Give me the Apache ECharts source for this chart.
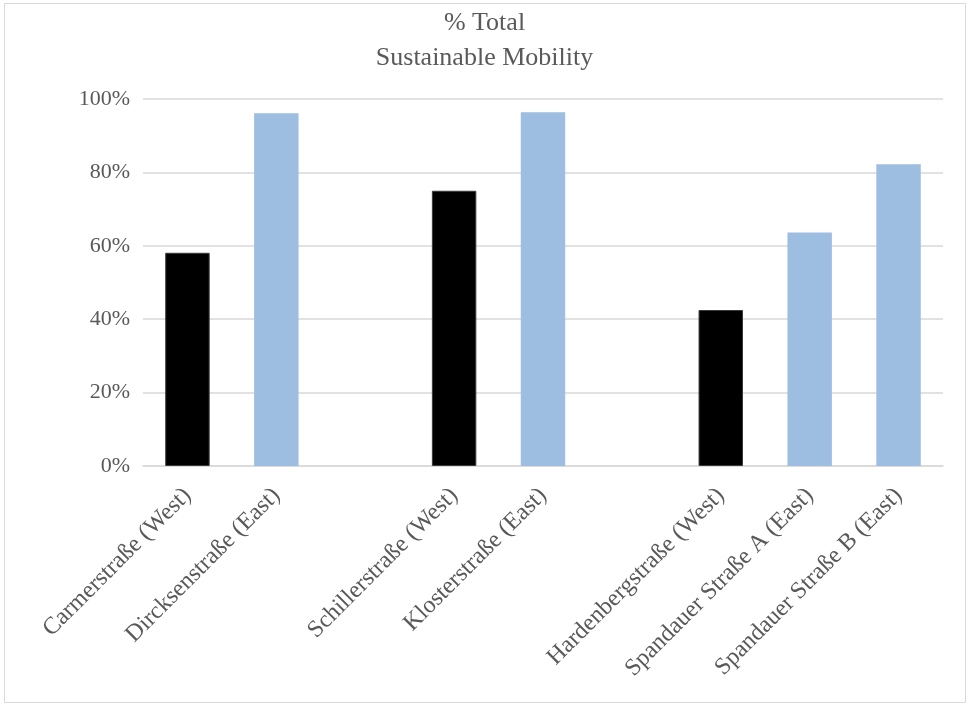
<!DOCTYPE html>
<html>
<head>
<meta charset="utf-8">
<script src="https://cdn.jsdelivr.net/npm/echarts@6/dist/echarts.min.js"></script>
<style>
  html, body { margin: 0; padding: 0; background: #fff; }
  #chart { width: 969px; height: 707px; }
</style>
</head>
<body>
<div id="chart"></div>
<script>
// Street names; empty entries leave a gap between the three groups
const streets = [
  'Carmerstraße (West)', 'Dircksenstraße (East)', '',
  'Schillerstraße (West)', 'Klosterstraße (East)', '',
  'Hardenbergstraße (West)', 'Spandauer Straße A (East)', 'Spandauer Straße B (East)'
];
// Share of sustainable mobility (%), null where a street belongs to the other side
const westShare = [58.1, null, null, 75.0, null, null, 42.5, null, null];
const eastShare = [null, 96.1, null, null, 96.4, null, null, 63.6, 82.2];
const yTicks = [0, 20, 40, 60, 80, 100];

const serif = '"Liberation Serif", "DejaVu Serif", serif';
const textGrey = '#595959';
const gridGrey = '#d9d9d9';

const chart = echarts.init(document.getElementById('chart'), null, { renderer: 'canvas' });
chart.setOption({
  animation: false,
  backgroundColor: '#ffffff',
  title: {
    text: '% Total\nSustainable Mobility',
    left: 'center',
    top: 1,
    textStyle: {
      fontFamily: serif,
      fontSize: 26,
      fontWeight: 'normal',
      color: textGrey,
      lineHeight: 35
    }
  },
  graphic: [{
    type: 'rect',
    shape: { x: 4.5, y: 3.5, width: 961, height: 699 },
    style: { fill: 'none', stroke: '#d9d9d9', lineWidth: 1 },
    silent: true
  }],
  grid: { left: 143, right: 26, top: 99, bottom: 241, containLabel: false },
  xAxis: {
    type: 'category',
    data: streets,
    axisLine: { show: true, lineStyle: { color: gridGrey, width: 1.5 } },
    axisTick: { show: false },
    axisLabel: {
      interval: 0,
      rotate: 45,
      margin: 26,
      fontFamily: serif,
      fontSize: 24,
      color: textGrey
    }
  },
  yAxis: {
    type: 'value',
    min: yTicks[0],
    max: yTicks[yTicks.length - 1],
    interval: 20,
    axisLine: { show: false },
    axisTick: { show: false },
    splitLine: { lineStyle: { color: gridGrey, width: 1.5 } },
    axisLabel: {
      formatter: v => v + '%',
      margin: 13,
      fontFamily: serif,
      fontSize: 22,
      color: textGrey
    }
  },
  series: [
    {
      name: 'West',
      type: 'bar',
      data: westShare,
      barWidth: '50%',
      barGap: '-100%',
      itemStyle: { color: '#000000', borderColor: '#3a3a3a', borderWidth: 1 }
    },
    {
      name: 'East',
      type: 'bar',
      data: eastShare,
      barWidth: '50%',
      itemStyle: { color: '#9dbee1' }
    }
  ]
});
</script>
</body>
</html>
